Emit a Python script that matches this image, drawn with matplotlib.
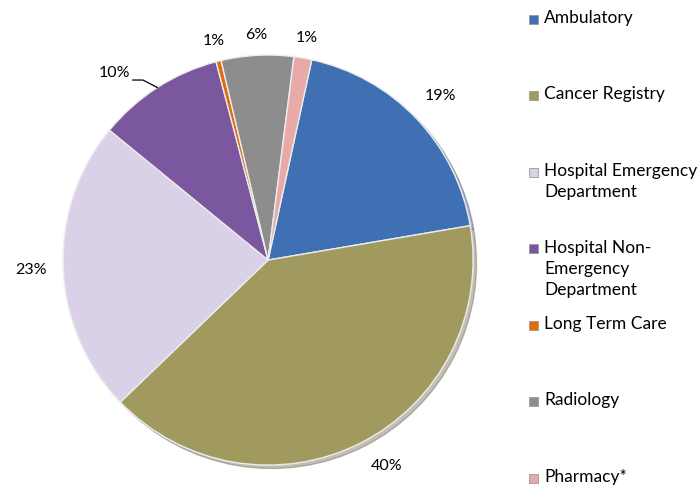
import numpy as np
import matplotlib.pyplot as plt

plt.rcParams['font.family'] = ['Lato', 'DejaVu Sans']

categories = ['Ambulatory', 'Cancer Registry', 'Hospital Emergency\nDepartment',
              'Hospital Non-\nEmergency\nDepartment', 'Long Term Care', 'Radiology', 'Pharmacy*']
values = [18.9, 40.5, 23.1, 10.0, 0.4, 5.7, 1.4]
pct_labels = ['19%', '40%', '23%', '10%', '1%', '6%', '1%']
colors = ['#3f70b3', '#a19a5f', '#dad1e9', '#7b57a0', '#e36c0a', '#8d8d8d', '#e8a9a9']

fig = plt.figure(figsize=(7, 4.87), dpi=100)
ax = fig.add_axes([0.09, 0.045, 0.586, 0.842])

start = 77.7
wedges, _ = ax.pie(values, colors=colors, startangle=start, counterclock=False,
                   wedgeprops=dict(edgecolor='#ececec', linewidth=1.0),
                   shadow=dict(ox=0.012, oy=-0.012, shade=0.5, alpha=0.35))
ax.set_xlim(-1.0, 1.0)
ax.set_ylim(-1.0, 1.0)
ax.set_aspect('equal')

# percentage labels around the pie
for i, w in enumerate(wedges):
    mid = (w.theta1 + w.theta2) / 2
    if i == 3:
        # purple slice label with a short leader line
        m = np.deg2rad(mid)
        ax.plot([np.cos(m), -0.61, -0.66], [np.sin(m), 0.878, 0.878],
                color='black', lw=0.9, clip_on=False)
        ax.text(-0.672, 0.912, pct_labels[i], ha='right', va='center',
                fontsize=11.5, clip_on=False)
        continue
    r = 1.10 if i >= 4 else 1.16
    if i == 1:
        mid = -60
    m = np.deg2rad(mid)
    ax.text(r * np.cos(m), r * np.sin(m), pct_labels[i], ha='center', va='center',
            fontsize=11.5, clip_on=False)

# legend drawn at the right
for i, (lab, c) in enumerate(zip(categories, colors)):
    y = 1 - (19 + 76.5 * i) / 487
    fig.patches.append(plt.Rectangle((529 / 700, y - 4.5 / 487), 9 / 700, 9 / 487,
                                     facecolor=c, edgecolor='#9a9a9a', linewidth=0.6,
                                     transform=fig.transFigure, figure=fig))
    fig.text(544 / 700, y + 9 / 487, lab, ha='left', va='top', fontsize=12.5,
             linespacing=1.42)

fig.savefig('out.png', dpi=100)
